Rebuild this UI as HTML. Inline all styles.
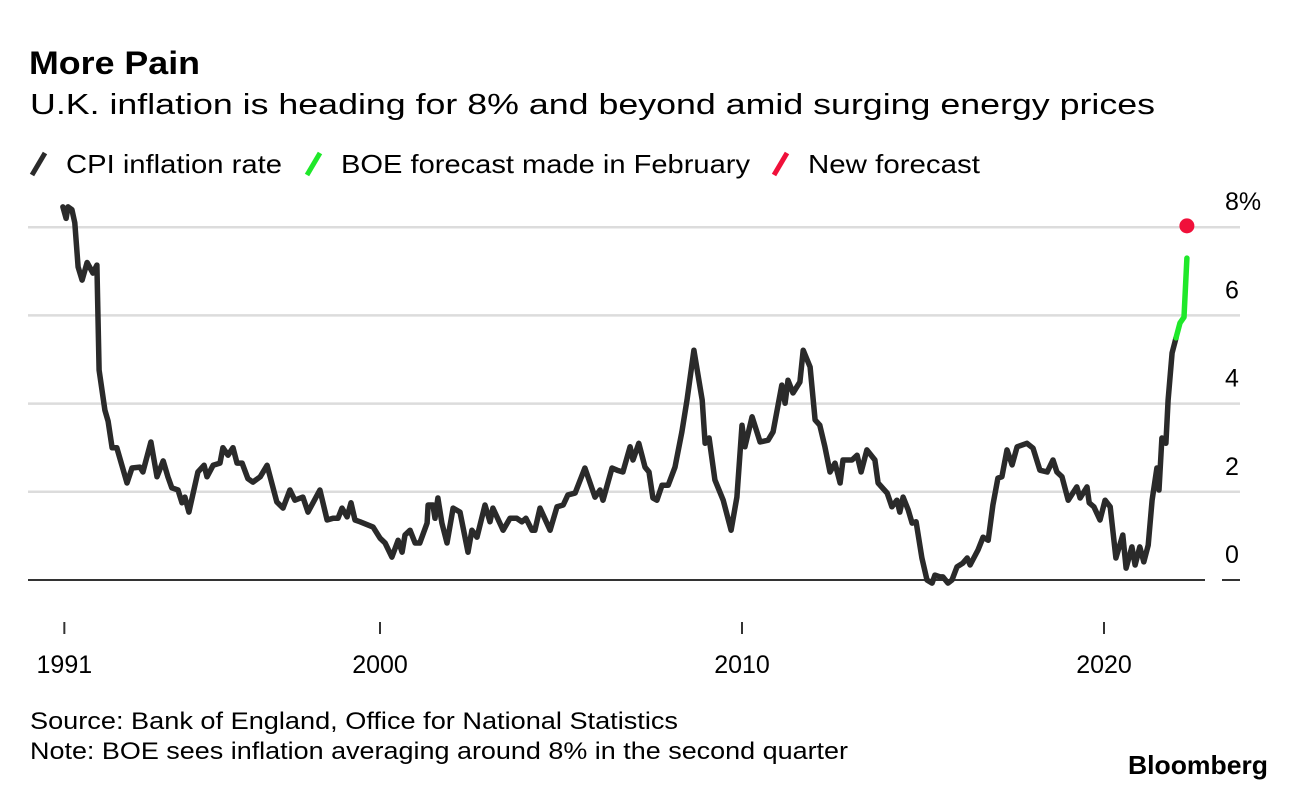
<!DOCTYPE html>
<html><head><meta charset="utf-8"><style>
html,body{margin:0;padding:0;background:#fff;}
svg{display:block;font-family:"Liberation Sans",sans-serif;}
</style></head><body>
<svg id="chart" width="1296" height="790" viewBox="0 0 1296 790" xmlns="http://www.w3.org/2000/svg">
<text x="29" y="74" font-size="32" font-weight="bold" textLength="171" lengthAdjust="spacingAndGlyphs" fill="#000">More Pain</text>
<text x="30" y="114" font-size="29" textLength="1125" lengthAdjust="spacingAndGlyphs" fill="#000">U.K. inflation is heading for 8% and beyond amid surging energy prices</text>
<g>
<line x1="32" y1="175" x2="45" y2="153" stroke="#2a2a2a" stroke-width="5"/>
<text x="66" y="173" font-size="26" textLength="216" lengthAdjust="spacingAndGlyphs">CPI inflation rate</text>
<line x1="307" y1="175" x2="320" y2="153" stroke="#1fe82a" stroke-width="5"/>
<text x="341" y="173" font-size="26" textLength="409" lengthAdjust="spacingAndGlyphs">BOE forecast made in February</text>
<line x1="774" y1="175" x2="787" y2="153" stroke="#f0103a" stroke-width="5"/>
<text x="808" y="173" font-size="26" textLength="172" lengthAdjust="spacingAndGlyphs">New forecast</text>
</g>
<g id="grid"></g>
<g id="yaxis"></g>
<g id="xaxis"></g>
<g id="series"></g>
<text x="30" y="729" font-size="24" textLength="648" lengthAdjust="spacingAndGlyphs">Source: Bank of England, Office for National Statistics</text>
<text x="30" y="759" font-size="24" textLength="818" lengthAdjust="spacingAndGlyphs">Note: BOE sees inflation averaging around 8% in the second quarter</text>
<text x="1128" y="774" font-size="26" font-weight="bold" textLength="140" lengthAdjust="spacingAndGlyphs">Bloomberg</text>
</svg>
<script>
const cpiYears = [1991.24,1991.33,1991.38,1991.49,1991.57,1991.66,1991.77,1991.91,1992.07,1992.18,1992.24,1992.40,1992.49,1992.60,1992.73,1992.87,1993.01,1993.15,1993.37,1993.45,1993.67,1993.84,1994.01,1994.14,1994.25,1994.42,1994.53,1994.61,1994.72,1994.97,1995.14,1995.22,1995.39,1995.58,1995.66,1995.80,1995.94,1996.05,1996.19,1996.35,1996.49,1996.69,1996.88,1997.15,1997.32,1997.51,1997.65,1997.87,1998.01,1998.34,1998.54,1998.70,1998.84,1998.95,1999.09,1999.20,1999.31,1999.45,1999.81,2000.00,2000.14,2000.33,2000.50,2000.61,2000.69,2000.83,2000.97,2001.10,2001.30,2001.33,2001.46,2001.52,2001.60,2001.71,2001.85,2002.02,2002.21,2002.43,2002.54,2002.68,2002.90,2003.04,2003.12,2003.40,2003.59,2003.78,2003.92,2004.03,2004.20,2004.28,2004.42,2004.70,2004.89,2005.06,2005.19,2005.39,2005.66,2005.94,2006.08,2006.16,2006.41,2006.55,2006.71,2006.91,2006.99,2007.15,2007.32,2007.43,2007.54,2007.65,2007.79,2007.96,2008.15,2008.34,2008.48,2008.67,2008.90,2008.98,2009.09,2009.25,2009.48,2009.70,2009.86,2010.00,2010.08,2010.28,2010.50,2010.72,2010.86,2011.10,2011.19,2011.27,2011.41,2011.60,2011.69,2011.88,2012.02,2012.15,2012.29,2012.43,2012.57,2012.71,2012.79,2013.04,2013.18,2013.29,2013.45,2013.67,2013.76,2014.01,2014.14,2014.28,2014.36,2014.45,2014.59,2014.70,2014.81,2014.97,2015.11,2015.25,2015.33,2015.47,2015.55,2015.69,2015.80,2015.94,2016.10,2016.22,2016.30,2016.52,2016.66,2016.80,2016.93,2017.07,2017.18,2017.32,2017.46,2017.60,2017.87,2018.04,2018.23,2018.43,2018.59,2018.70,2018.84,2019.01,2019.25,2019.34,2019.53,2019.59,2019.72,2019.89,2020.03,2020.17,2020.33,2020.52,2020.61,2020.77,2020.86,2020.99,2021.10,2021.22,2021.33,2021.46,2021.52,2021.60,2021.71,2021.77,2021.88,2021.99];
const cpiValues = [8.46,8.2,8.46,8.4,8.1,7.1,6.8,7.2,6.96,7.14,4.76,3.85,3.6,3.0,3.0,2.6,2.2,2.54,2.56,2.45,3.13,2.34,2.7,2.34,2.09,2.04,1.75,1.88,1.54,2.45,2.6,2.34,2.6,2.65,3.0,2.83,3.0,2.65,2.65,2.3,2.22,2.34,2.6,1.77,1.63,2.04,1.81,1.88,1.54,2.04,1.36,1.4,1.4,1.63,1.43,1.75,1.36,1.32,1.2,0.95,0.84,0.52,0.9,0.63,1.02,1.13,0.84,0.84,1.29,1.7,1.7,1.4,1.86,1.29,0.84,1.63,1.54,0.63,1.13,0.97,1.7,1.32,1.63,1.13,1.4,1.4,1.32,1.4,1.13,1.13,1.63,1.13,1.66,1.7,1.93,1.97,2.54,1.88,2.04,1.81,2.54,2.49,2.45,3.02,2.72,3.1,2.56,2.45,1.86,1.81,2.15,2.15,2.56,3.36,4.08,5.21,4.08,3.1,3.22,2.27,1.81,1.13,1.88,3.51,3.02,3.7,3.13,3.17,3.36,4.42,4.01,4.53,4.24,4.49,5.21,4.83,3.63,3.51,3.02,2.45,2.65,2.2,2.72,2.72,2.83,2.45,2.95,2.72,2.2,1.97,1.66,1.81,1.54,1.88,1.59,1.29,1.32,0.5,0,-0.07,0.11,0.07,0.07,-0.07,0,0.3,0.38,0.5,0.34,0.68,0.97,0.9,1.7,2.31,2.34,2.95,2.61,3.02,3.1,2.99,2.49,2.45,2.72,2.45,2.34,1.81,2.11,1.86,2.11,1.75,1.66,1.36,1.81,1.66,0.5,1.02,0.27,0.75,0.34,0.75,0.41,0.79,1.81,2.54,2.04,3.22,3.1,4.08,5.15,5.49];
const boeYears = [2021.99,2022.10,2022.21,2022.29];
const boeValues = [5.49,5.83,5.96,7.3];
const newYears = [2022.29];
const newValues = [8.03];
const yTicks = [0,2,4,6,8];
const yTickLabels = ["0","2","4","6","8%"];
const xTicks = [1991.28,2000,2010,2020];
const xTickLabels = ["1991","2000","2010","2020"];

const NS = "http://www.w3.org/2000/svg";
const xS = y => 380 + (y - 2000) * 36.2;
const yS = v => 580 - v * 44.1;
function mk(tag, attrs, parent){const e=document.createElementNS(NS,tag);for(const k in attrs)e.setAttribute(k,attrs[k]);parent.appendChild(e);return e;}

const grid=document.getElementById('grid'), ya=document.getElementById('yaxis'), xa=document.getElementById('xaxis'), ser=document.getElementById('series');
yTicks.forEach((t,i)=>{
  if(t!==0){
    const l=mk('line',{x1:28,x2:1240,y1:yS(t),y2:yS(t),stroke:'#dcdcdc','stroke-width':2.5},grid);
    
    
  }
  const tx=mk('text',{x:1225,y:yS(t)-17,'font-size':25,fill:'#000'},ya);
  tx.textContent=yTickLabels[i];
  
  
});
const zl=mk('line',{x1:28,x2:1205,y1:yS(0),y2:yS(0),stroke:'#333','stroke-width':2},grid);


const zd=mk('line',{x1:1222,x2:1240,y1:yS(0),y2:yS(0),stroke:'#333','stroke-width':2},grid);


xTicks.forEach((t,i)=>{
  const l=mk('line',{x1:xS(t),x2:xS(t),y1:622,y2:634,stroke:'#333','stroke-width':2},xa);
  
  
  const tx=mk('text',{x:xS(t),y:673,'font-size':25,'text-anchor':'middle'},xa);
  tx.textContent=xTickLabels[i];
  
  
});
function pts(xs,vs){return xs.map((x,i)=>xS(x).toFixed(1)+','+yS(vs[i]).toFixed(1)).join(' ');}
const cpi=mk('polyline',{points:pts(cpiYears,cpiValues),fill:'none',stroke:'#2a2a2a','stroke-width':5.5,'stroke-linejoin':'round','stroke-linecap':'round'},ser);


const boe=mk('polyline',{points:pts(boeYears,boeValues),fill:'none',stroke:'#1fe82a','stroke-width':5.5,'stroke-linejoin':'round','stroke-linecap':'round'},ser);


newYears.forEach((y,i)=>{
  const c=mk('circle',{cx:xS(y),cy:yS(newValues[i]),r:7.5,fill:'#f0103a'},ser);
  
  
});
</script>
</body></html>
